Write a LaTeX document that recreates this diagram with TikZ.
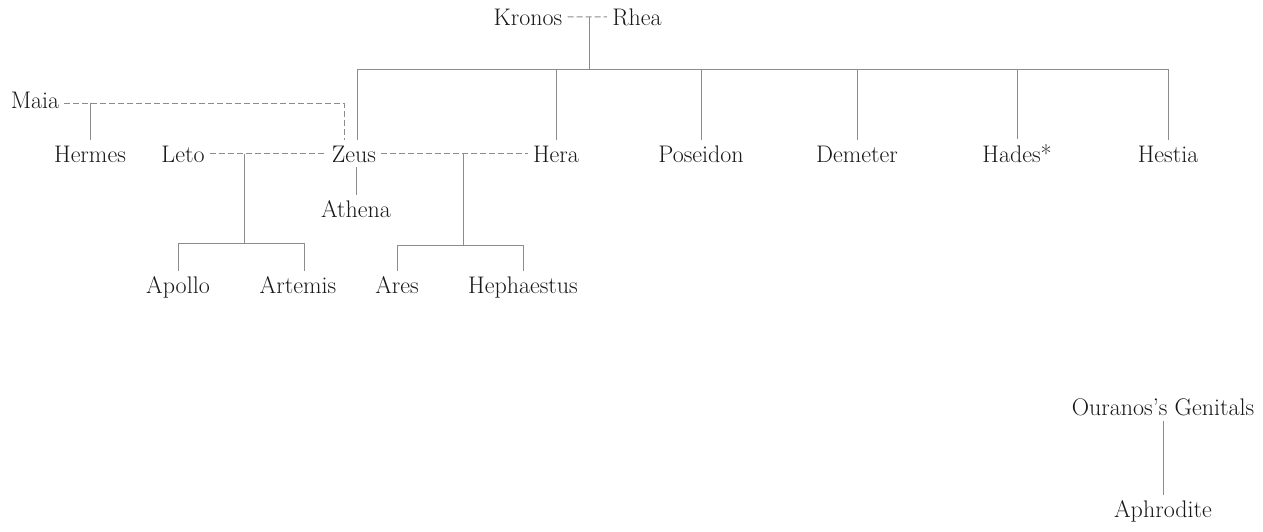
\documentclass[tikz,border=0pt]{standalone}
\usetikzlibrary{calc}
\begin{document}
\begin{tikzpicture}[x=1pt,y=-1pt,
  godname/.style={anchor=base,inner sep=5pt,text=black!90,font=\fontsize{24}{28}\selectfont},
  solidline/.style={draw=black!45,line width=0.9pt},
  dashline/.style={draw=black!45,line width=0.9pt,dash pattern=on 6pt off 3pt}]
\useasboundingbox[fill=white] (0,0) rectangle (1263,531);
% nodes
\node[godname] (kronos) at (528,25) {Kronos};
\node[godname] (rhea) at (637,25) {Rhea};
\node[godname] (maia) at (35,108) {Maia};
\node[godname] (hermes) at (90,162) {Hermes};
\node[godname] (leto) at (183,162) {Leto};
\node[godname] (zeus) at (354,162) {Zeus};
\node[godname] (athena) at (356,217) {Athena};
\node[godname] (hera) at (556,162) {Hera};
\node[godname] (poseidon) at (701,162) {Poseidon};
\node[godname] (demeter) at (857,162) {Demeter};
\node[godname] (hades) at (1017,162) {Hades*};
\node[godname] (hestia) at (1168,162) {Hestia};
\node[godname] (apollo) at (178,293) {Apollo};
\node[godname] (artemis) at (298,293) {Artemis};
\node[godname] (ares) at (397,293) {Ares};
\node[godname] (hephaestus) at (523,293) {Hephaestus};
\node[godname] (ouranos) at (1163,415) {Ouranos's Genitals};
\node[godname] (aphrodite) at (1163,517) {Aphrodite};
% junction coordinates
\coordinate (kr) at (589,69);
\coordinate (bz) at (357,69);
\coordinate (bs) at (1168,69);
\coordinate (mc) at (344,103);
\coordinate (mh) at (90,103);
\coordinate (aa) at (244,243);
\coordinate (aaL) at (178,243);
\coordinate (aaR) at (304,243);
\coordinate (ah) at (463,245);
\coordinate (ahL) at (397,245);
\coordinate (ahR) at (523,245);
% Kronos -- Rhea
\draw[dashline] (kronos.east) -- (rhea.west);
\draw[solidline] (kr |- kronos.east) -- (kr);
\draw[solidline] (bz) -- (bs);
\draw[solidline] (bz) -- (bz |- zeus.north);
\draw[solidline] (hera.north |- bz) -- (hera.north);
\draw[solidline] (poseidon.north |- bz) -- (poseidon.north);
\draw[solidline] (demeter.north |- bz) -- (demeter.north);
\draw[solidline] (hades.north |- bz) -- (hades.north);
\draw[solidline] (bs) -- (hestia.north);
% Maia -- Zeus
\draw[dashline] (maia.east |- mc) -- (mc) -- (mc |- zeus.north);
\draw[solidline] (mh) -- (hermes.north);
% Zeus -> Athena
\draw[solidline] (athena.north |- zeus.south) -- (athena.north);
% Leto -- Zeus
\draw[dashline] (leto.east) -- (zeus.west);
\draw[solidline] (aa |- leto.east) -- (aa);
\draw[solidline] (aaL) -- (aaR);
\draw[solidline] (aaL) -- (apollo.north);
\draw[solidline] (aaR) -- (aaR |- artemis.north);
% Zeus -- Hera
\draw[dashline] (zeus.east) -- (hera.west);
\draw[solidline] (ah |- zeus.east) -- (ah);
\draw[solidline] (ahL) -- (ahR);
\draw[solidline] (ahL) -- (ares.north);
\draw[solidline] (ahR) -- (hephaestus.north);
% Ouranos -> Aphrodite
\draw[solidline] (ouranos.south) -- (aphrodite.north);
\end{tikzpicture}
\end{document}
